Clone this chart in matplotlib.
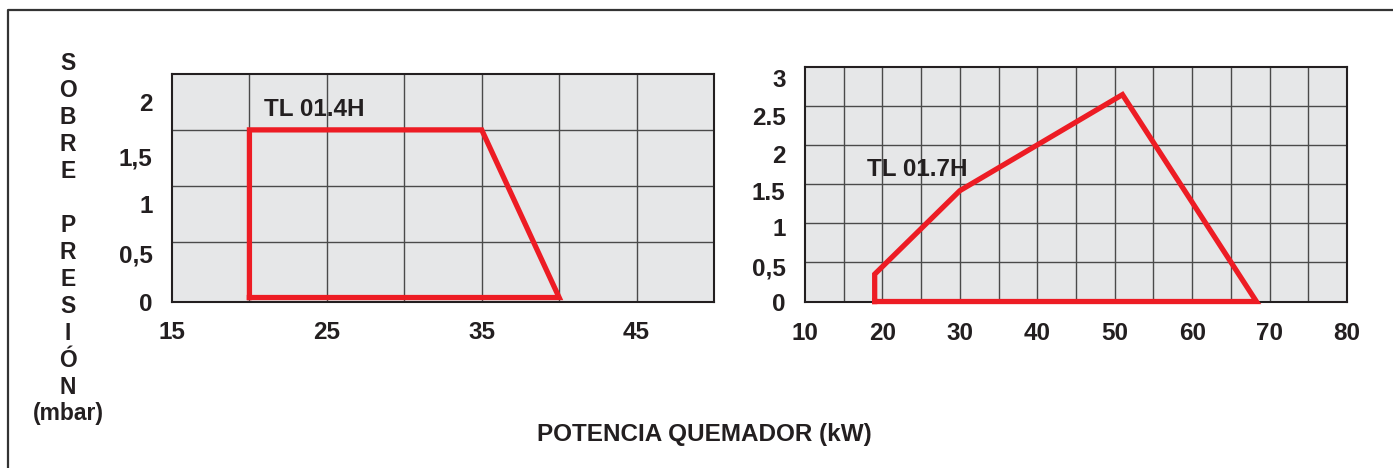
import matplotlib
matplotlib.use('Agg')
from matplotlib import pyplot as plt
from matplotlib.lines import Line2D
import numpy as np

# working range of the two burners (power kW vs. overpressure mbar)
tl14_kw = [20, 20, 35, 40, 20]
tl14_mbar = [0, 1.5, 1.5, 0, 0]
tl17_kw = [19, 19, 30, 51, 68.3, 19]
tl17_mbar = [0, 0.35, 1.42, 2.65, 0, 0]

left_xticks = [15, 25, 35, 45]
left_ylabels = ['0', '0,5', '1', '1,5', '2']
right_xticks = [10, 20, 30, 40, 50, 60, 70, 80]
right_ylabels = ['0', '0,5', '1', '1.5', '2', '2.5', '3']

RED = '#ed1c24'
INK = '#231f20'
BG = '#e6e7e8'
GRID = '#4a4a4a'
FS = 17.5

plt.rcParams['font.family'] = ['Liberation Sans', 'DejaVu Sans']
plt.rcParams['font.weight'] = 'bold'

fig = plt.figure(figsize=(13.93, 4.68), dpi=100)

W, H = 1393, 468
def box(x0, y0, x1, y1):
    return [x0 / W, 1 - y1 / H, (x1 - x0) / W, (y1 - y0) / H]

ax1 = fig.add_axes(box(172, 74, 714, 302))
ax2 = fig.add_axes(box(805, 67.3, 1347, 302.3))

def style(ax, xlim, ylim, xticks, ylabels, ylabel_pos):
    ax.set_facecolor(BG)
    ax.set_xlim(*xlim)
    ax.set_ylim(*ylim)
    # grid every 5 kW and every 0.5 mbar
    for gx in np.arange(xlim[0] + 5, xlim[1], 5):
        ax.axvline(gx, color=GRID, lw=1.0, zorder=0.5)
    for gy in np.arange(ylim[0] + 0.5, ylim[1], 0.5):
        ax.axhline(gy, color=GRID, lw=1.0, zorder=0.5)
    ax.set_xticks(xticks)
    ax.set_xticklabels([str(t) for t in xticks])
    ax.set_yticks(ylabel_pos)
    ax.set_yticklabels(ylabels)
    ax.tick_params(which='both', length=0)
    ax.tick_params(axis='x', pad=14, labelsize=FS, labelcolor=INK)
    ax.tick_params(axis='y', pad=14, labelsize=FS, labelcolor=INK)
    for lab in ax.get_xticklabels() + ax.get_yticklabels():
        lab.set_fontweight('bold')
    for s in ax.spines.values():
        s.set_color(INK)
        s.set_linewidth(1.5)

# the y labels in the original sit a little off the grid lines
style(ax1, (15, 50), (0, 2), left_xticks, left_ylabels,
      [-0.04, 0.39, 0.84, 1.26, 1.75])
style(ax2, (10, 80), (0, 3), right_xticks, right_ylabels,
      [-0.01, 0.45, 0.95, 1.41, 1.89, 2.37, 2.86])

ax1.plot(tl14_kw, tl14_mbar, color=RED, lw=3.8, solid_joinstyle='miter', clip_on=False, zorder=3)
ax2.plot(tl17_kw, tl17_mbar, color=RED, lw=3.8, solid_joinstyle='miter', clip_on=False, zorder=3)

ax1.text(20.94, 1.68, 'TL 01.4H', fontsize=FS, fontweight='bold', color=INK, va='center')
ax2.text(17.97, 1.69, 'TL 01.7H', fontsize=FS, fontweight='bold', color=INK, va='center')

ylab = '\n'.join(list('SOBRE') + [''] + list('PRESIÓN')) + '\n(mbar)'
fig.text(68 / W, 1 - 52 / H, ylab, fontsize=16.5, fontweight='bold', color=INK,
         ha='center', va='top', linespacing=1.22,
         family=['Liberation Sans Narrow', 'Liberation Sans'])

fig.text(704 / W, 1 - 435 / H, 'POTENCIA QUEMADOR (kW)', fontsize=FS,
         fontweight='bold', color=INK, ha='center', va='center')

# frame of the original sheet (top and left edges only)
fig.add_artist(Line2D([8 / W, 8 / W, 1], [0, 1 - 10 / H, 1 - 10 / H],
                      transform=fig.transFigure, color='#333333', lw=1.6))

plt.savefig('out.png', dpi=100)
